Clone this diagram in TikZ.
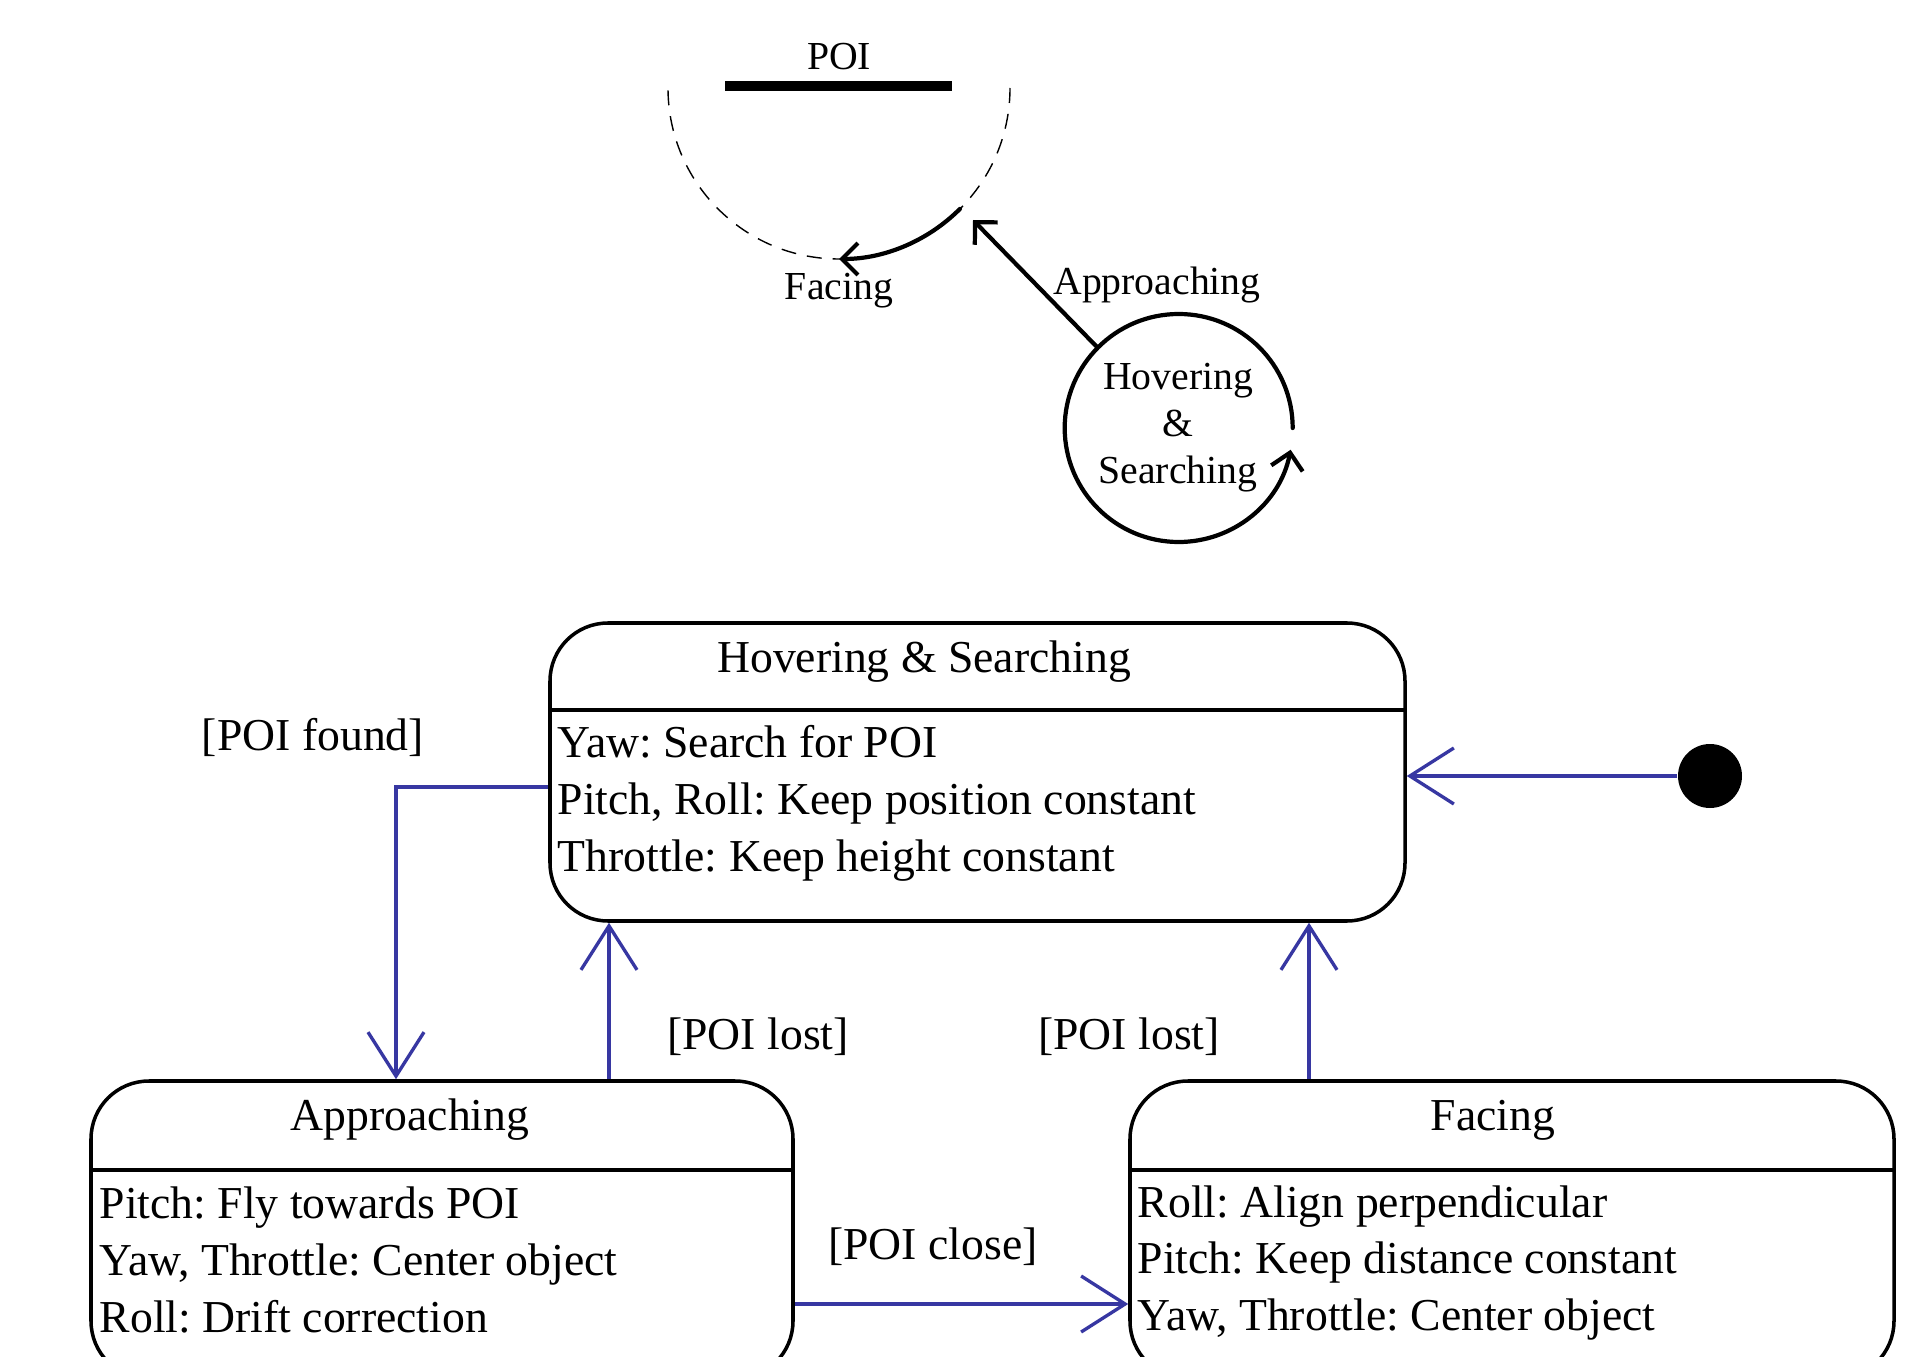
\documentclass[tikz,border=0pt]{standalone}
\usepackage{fontspec}
\setmainfont{Liberation Serif}
\usetikzlibrary{arrows.meta,positioning}
\definecolor{umlblue}{RGB}{55,55,162}
\frenchspacing
\begin{document}
\begin{tikzpicture}[
    statebox/.style={draw,line width=1pt,rounded corners=0.58cm,inner sep=0pt},
    sep/.style={line width=1pt},
    title/.style={font=\fontsize{13}{16.2}\selectfont,inner sep=0pt},
    body/.style={font=\fontsize{13}{16.2}\selectfont,align=left,inner sep=0pt,anchor=west},
    guard/.style={font=\fontsize{13}{16.2}\selectfont,inner sep=0pt},
    trans/.style={umlblue,line width=0.95pt,-{Straight Barb[length=4.4mm,width=5.6mm]}},
    sketch/.style={line width=1.2pt,line cap=round,-{Straight Barb[length=1.6mm,width=3.2mm]}},
    small/.style={font=\fontsize{11.3}{13.4}\selectfont,inner sep=0pt}]
  \clip (0,0) rectangle (19.07,-13.57);
  % sketch of the flight around the POI
  \node[small] (poi) at (8.39,-0.57) {POI};
  \draw[line width=1mm] (7.25,-0.86) -- (9.52,-0.86);
  \coordinate (mid) at (8.39,-0.88);
  \draw[line width=0.4pt,dash pattern=on 1.5mm off 1.1mm] ([shift={(0:1.71)}]mid) arc (0:-180:1.71);
  \draw[sketch] ([shift={(-45:1.71)}]mid) arc (-45:-90:1.71);
  \node[small] (facinglbl) at (8.39,-2.91) {Facing};
  \node[small,circle,minimum size=2.28cm,align=center] (hs) at (11.78,-4.28)
    {Hovering\\\&\\Searching};
  \draw[sketch] (hs.0) arc (0:349:1.14);
  \coordinate (apptip) at (9.73,-2.20);
  \draw[sketch] (hs.135) -- (apptip);
  \node[small] (applbl) at (11.57,-2.85) {Approaching};
  % state machine
  \node[statebox,minimum width=8.55cm,minimum height=2.98cm] (hover) at (9.775,-7.72) {};
  \node[statebox,minimum width=7.02cm,minimum height=2.98cm] (approach) at (4.42,-12.30) {};
  \node[statebox,minimum width=7.64cm,minimum height=2.98cm] (facing) at (15.12,-12.30) {};
  \draw[sep] (5.50,-7.10) -- (14.05,-7.10);
  \draw[sep] (0.91,-11.70) -- (7.93,-11.70);
  \draw[sep] (11.30,-11.70) -- (18.94,-11.70);
  \node[title] (hovertitle) at (9.24,-6.62) {Hovering \& Searching};
  \node[title] (approachtitle) at (4.10,-11.20) {Approaching};
  \node[title] (facingtitle) at (14.93,-11.20) {Facing};
  \node[body] (hoverbody) at (5.57,-8.035)
    {Yaw: Search for POI\\Pitch, Roll: Keep position constant\\Throttle: Keep height constant};
  \node[body] (approachbody) at (0.99,-12.60)
    {Pitch: Fly towards POI\\Yaw, Throttle: Center object\\Roll: Drift correction};
  \node[body] (facingbody) at (11.37,-12.63)
    {Roll: Align perpendicular\\Pitch: Keep distance constant\\Yaw, Throttle: Center object};
  % initial state and transitions
  \node[circle,fill=black,minimum size=0.64cm,inner sep=0pt] (init) at (17.10,-7.76) {};
  \draw[trans] (init.west) -- (init -| hover.east);
  \draw[trans] ([yshift=-0.15cm]hover.west) -| ([xshift=-0.46cm]approach.north);
  \draw[trans] ([xshift=1.67cm]approach.north) -- ([xshift=1.67cm]approach.north |- hover.south);
  \draw[trans] ([xshift=-2.03cm]facing.north) -- ([xshift=-2.03cm]facing.north |- hover.south);
  \draw[trans] ([yshift=-0.74cm]approach.east) -- ([yshift=-0.74cm]approach.east -| facing.west);
  \node[guard] (found) at (3.13,-7.37) {[POI found]};
  \node[guard] (lost1) at (7.58,-10.37) {[POI lost]};
  \node[guard] (lost2) at (11.29,-10.37) {[POI lost]};
  \node[guard] (close) at (9.33,-12.47) {[POI close]};
\end{tikzpicture}
\end{document}
